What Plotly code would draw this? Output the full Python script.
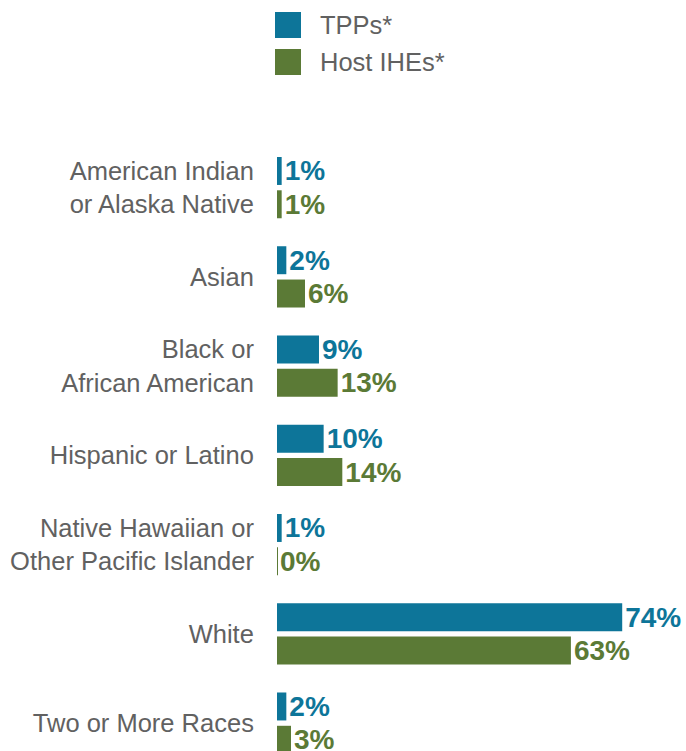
import plotly.graph_objects as go

# Race / ethnicity shares (percent)
categories = [
    "American Indian<br>or Alaska Native",
    "Asian",
    "Black or<br>African American",
    "Hispanic or Latino",
    "Native Hawaiian or<br>Other Pacific Islander",
    "White",
    "Two or More Races",
]
tpp_values = [1, 2, 9, 10, 1, 74, 2]
ihe_values = [1, 6, 13, 14, 0, 63, 3]
series_names = ["TPPs*", "Host IHEs*"]

TPP_COLOR = "#0d7599"
IHE_COLOR = "#5b7a36"
TEXT_GRAY = "#616161"
FONT = "Liberation Sans, Arial, sans-serif"

W, H = 686, 751
M_LEFT, M_TOP = 277, 143
px_per_pct = 4.665
band_px = 89.25

fig = go.Figure()
for name, vals, color in [(series_names[0], tpp_values, TPP_COLOR),
                          (series_names[1], ihe_values, IHE_COLOR)]:
    fig.add_trace(go.Bar(
        y=categories,
        x=vals,
        orientation="h",
        name=name,
        marker=dict(color=color,
                    line=dict(color=color, width=[2 if v == 0 else 0 for v in vals])),
        text=[f"{v}%" for v in vals],
        textposition="outside",
        textfont=dict(family=FONT, size=28, color=color, weight="bold"),
        constraintext="none",
        cliponaxis=False,
        showlegend=False,
        hoverinfo="skip",
    ))

plot_w = W - M_LEFT
plot_h = H - M_TOP
fig.update_layout(
    width=W, height=H,
    margin=dict(l=M_LEFT, r=0, t=M_TOP, b=0, pad=0),
    paper_bgcolor="white", plot_bgcolor="white",
    barmode="group",
    bargap=0.2537,
    bargroupgap=0.16,
    font=dict(family=FONT, color=TEXT_GRAY),
    xaxis=dict(range=[0, plot_w / px_per_pct], visible=False, fixedrange=True),
    yaxis=dict(
        type="category",
        categoryorder="array",
        categoryarray=categories,
        range=[-0.5 + plot_h / band_px, -0.5],
        showgrid=False, zeroline=False, showline=False,
        ticks="outside", ticklen=17, tickcolor="rgba(0,0,0,0)",
        tickfont=dict(family=FONT, size=25.5, color=TEXT_GRAY),
    ),
)

# Legend: colour swatches with series names above the plot
legend_rows = [(series_names[0], TPP_COLOR, 25), (series_names[1], IHE_COLOR, 62)]
for label, color, cy in legend_rows:
    fig.add_shape(
        type="rect", xref="paper", yref="paper",
        xsizemode="pixel", ysizemode="pixel",
        xanchor=0, yanchor=1,
        x0=-2, x1=24, y0=M_TOP - cy - 13, y1=M_TOP - cy + 13,
        fillcolor=color, line=dict(width=0),
    )
    fig.add_annotation(
        x=0, y=1, xref="paper", yref="paper",
        xanchor="left", yanchor="middle",
        xshift=41, yshift=M_TOP - cy,
        text=label, showarrow=False,
        font=dict(family=FONT, size=25.5, color=TEXT_GRAY),
    )

fig.write_html("out.html")
